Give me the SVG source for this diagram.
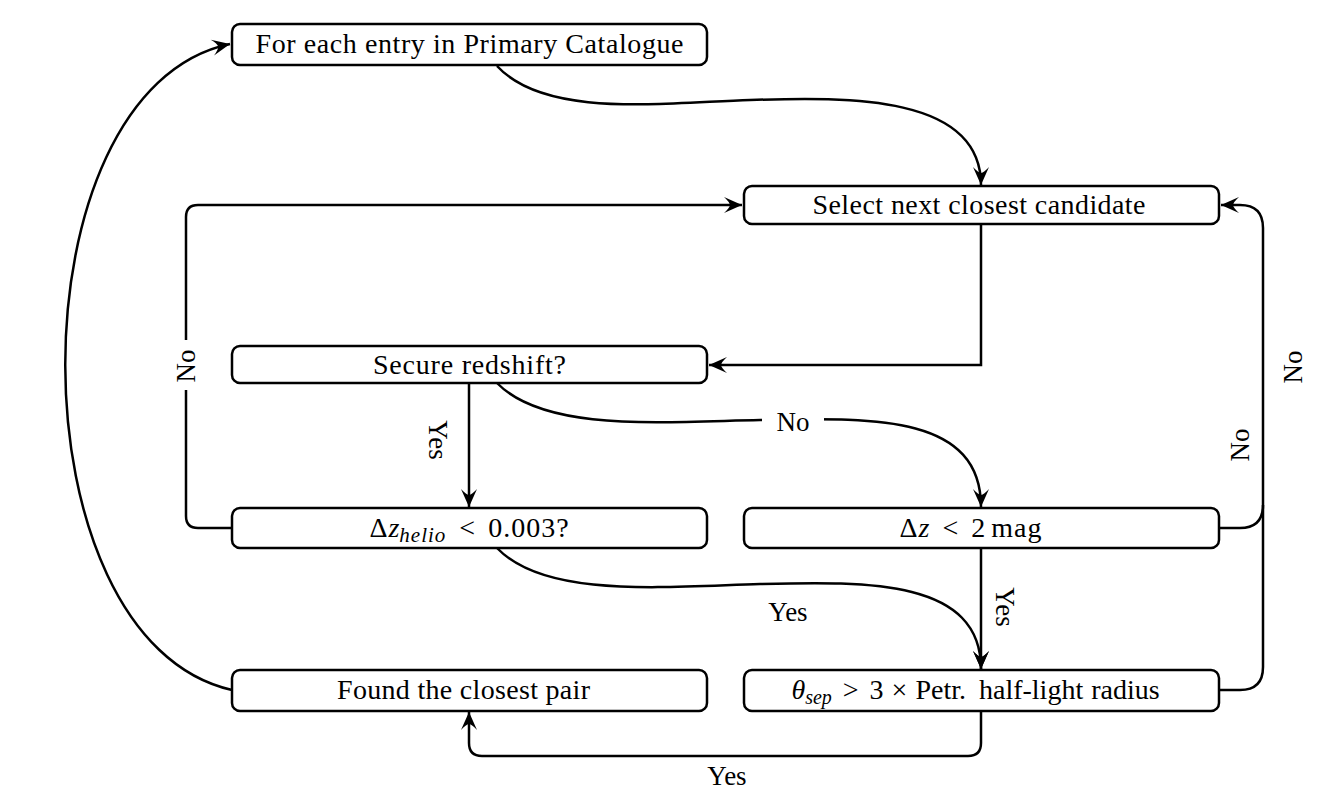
<svg xmlns="http://www.w3.org/2000/svg" width="1336" height="791" viewBox="0 0 1336 791">
<style>
.box{fill:#fff;stroke:#000;stroke-width:2.5}
.t{font-family:"Liberation Serif","Times New Roman",serif;font-size:28px;fill:#000;text-anchor:middle}
.lbl{font-family:"Liberation Serif","Times New Roman",serif;font-size:27px;fill:#000;text-anchor:middle}
.c{fill:none;stroke:#000;stroke-width:2.5;marker-end:url(#arr)}
.cn{fill:none;stroke:#000;stroke-width:2.5}
.it{font-style:italic}
</style>
<defs>
<marker id="arr" markerUnits="userSpaceOnUse" viewBox="-20 -10 22 20" markerWidth="22" markerHeight="20" refX="0" refY="0" orient="auto">
<path d="M0,0 L-18,-8 Q-12.5,-3 -12,0 Q-12.5,3 -18,8 Z" fill="#000"/>
</marker>
</defs>
<rect width="1336" height="791" fill="#fff"/>
<g id="connectors">
<path class="c" d="M497,66 C545,118 660,103 750,100 C850,97 981,95 981,185"/>
<path class="c" d="M981,224 V365 H709"/>
<path class="c" d="M469,383 V507"/>
<path class="c" d="M497,383 C545,432 660,422 760,420 C870,418 981,413 981,507"/>
<path class="c" d="M497,548 C545,598 660,587 760,584 C870,581 981,580 981,669"/>
<path class="c" d="M981,548 V669"/>
<path class="c" d="M981,711 V743 Q981,756 968,756 H482 Q469,756 469,743 V712"/>
<path class="c" d="M232,690 C10,640 10,90 230,44"/>
<path class="c" d="M232,528 H198 Q186,528 186,516 V217 Q186,205 198,205 H742"/>
<path class="c" d="M1219,528 H1240 Q1263,528 1263,505 V228 Q1263,205 1240,205 H1221"/>
<path class="cn" d="M1219,690 H1240 Q1263,690 1263,667 V505"/>
</g>
<g id="labels">
<rect x="762" y="405" width="62" height="32" fill="#fff"/>
<text class="lbl" x="793" y="431">No</text>
<text class="lbl" x="788" y="621">Yes</text>
<text class="lbl" x="727" y="785">Yes</text>
<rect x="174" y="340" width="24" height="50" fill="#fff"/>
<text class="lbl" transform="translate(186,366) rotate(-90)" y="9">No</text>
<text class="lbl" transform="translate(438,440) rotate(90)" y="9">Yes</text>
<text class="lbl" transform="translate(1240,445) rotate(-90)" y="9">No</text>
<text class="lbl" transform="translate(1293,367) rotate(-90)" y="9">No</text>
<text class="lbl" transform="translate(1005,607) rotate(90)" y="9">Yes</text>
</g>
<g id="n1"><rect class="box" x="232" y="24" width="475" height="41" rx="8"/><text class="t" x="469.5" y="53" textLength="428">For each entry in Primary Catalogue</text></g>
<g id="n2"><rect class="box" x="744" y="186" width="475" height="38" rx="8"/><text class="t" x="979" y="214" textLength="333">Select next closest candidate</text></g>
<g id="n3"><rect class="box" x="232" y="346" width="475" height="37" rx="8"/><text class="t" x="469.5" y="374" textLength="193">Secure redshift?</text></g>
<g id="n4"><rect class="box" x="232" y="508" width="475" height="40" rx="8"/><text class="t" x="469.5" y="537"><tspan>Δ</tspan><tspan class="it" dx="1">z</tspan><tspan class="it" font-size="21" dy="5" letter-spacing="1">helio</tspan><tspan dx="13" dy="-5">&lt;</tspan><tspan dx="13" letter-spacing="1">0.003?</tspan></text></g>
<g id="n5"><rect class="box" x="744" y="508" width="475" height="40" rx="8"/><text class="t" x="971" y="537"><tspan>Δ</tspan><tspan class="it" dx="1">z</tspan><tspan dx="13">&lt;</tspan><tspan dx="13">2</tspan><tspan dx="6" letter-spacing="1">mag</tspan></text></g>
<g id="n6"><rect class="box" x="232" y="670" width="475" height="41" rx="8"/><text class="t" x="463.5" y="699" textLength="253">Found the closest pair</text></g>
<g id="n7"><rect class="box" x="744" y="670" width="475" height="41" rx="8"/><text class="t" x="975.5" y="699"><tspan class="it">θ</tspan><tspan class="it" font-size="20" dy="5">sep</tspan><tspan dx="11" dy="-5">&gt;</tspan><tspan dx="11">3</tspan><tspan dx="8">×</tspan><tspan dx="8">Petr.</tspan><tspan dx="13">half-light</tspan><tspan dx="8">radius</tspan></text></g>
</svg>
